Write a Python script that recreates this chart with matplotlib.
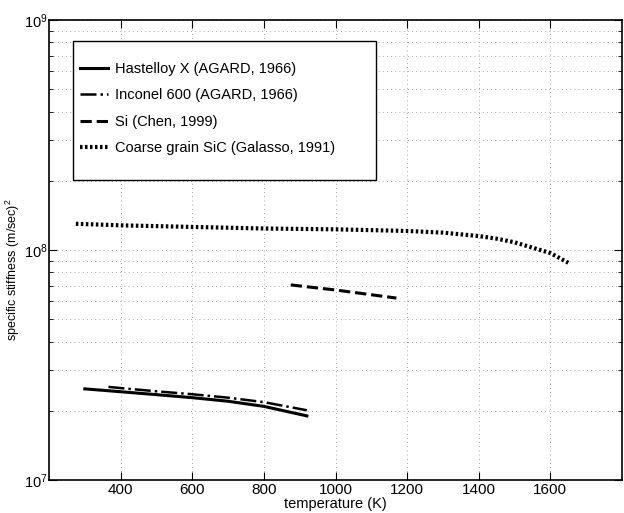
import matplotlib
matplotlib.use('Agg')
import matplotlib.pyplot as plt
from matplotlib.patches import Rectangle
from matplotlib.ticker import LogLocator, NullFormatter

# valeurs
hastelloy_T = [300, 400, 500, 600, 700, 800, 920]
hastelloy_E = [2.49e7, 2.42e7, 2.35e7, 2.28e7, 2.20e7, 2.09e7, 1.90e7]

inconel_T = [366, 400, 500, 600, 700, 800, 920]
inconel_E = [2.54e7, 2.51e7, 2.43e7, 2.36e7, 2.28e7, 2.18e7, 2.01e7]

si_T = [875, 1000, 1170]
si_E = [7.05e7, 6.70e7, 6.18e7]

sic_T = [275, 400, 600, 800, 1000, 1200, 1300, 1400, 1450, 1500, 1600, 1650]
sic_E = [1.30e8, 1.28e8, 1.26e8, 1.24e8, 1.23e8, 1.21e8, 1.19e8, 1.15e8,
         1.12e8, 1.08e8, 9.7e7, 8.8e7]

labels = ['Hastelloy X (AGARD, 1966)', 'Inconel 600 (AGARD, 1966)',
          'Si (Chen, 1999)', 'Coarse grain SiC (Galasso, 1991)']
xticks = [400, 600, 800, 1000, 1200, 1400, 1600]

plt.rcParams['font.family'] = ['Liberation Sans', 'DejaVu Sans']
plt.rcParams['font.size'] = 10.5
plt.rcParams['mathtext.fontset'] = 'custom'
plt.rcParams['mathtext.rm'] = 'Liberation Sans'

fig = plt.figure(figsize=(6.24, 5.13), dpi=100)
ax = fig.add_axes([49 / 624, 1 - 480 / 513, 573 / 624, 460 / 513])

ax.plot(hastelloy_T, hastelloy_E, '-', color='black', lw=2.2, label=labels[0])
ax.plot(inconel_T, inconel_E, '-.', color='black', lw=1.8, label=labels[1])
ax.plot(si_T, si_E, '--', color='black', lw=2.2, label=labels[2])
ax.plot(sic_T, sic_E, linestyle=(0, (0.6, 0.6)), color='black', lw=3.0,
        label=labels[3])

ax.set_yscale('log')
ax.set_xlim(200, 1800)
ax.set_ylim(1e7, 1e9)
ax.set_xticks(xticks)
ax.yaxis.set_minor_locator(LogLocator(base=10, subs=range(2, 10)))
ax.yaxis.set_minor_formatter(NullFormatter())

grid_style = dict(linestyle=(0, (1, 4)), color='0.55', lw=0.6)
ax.grid(True, which='major', axis='x', **grid_style)
ax.grid(True, which='both', axis='y', **grid_style)

ax.tick_params(which='both', direction='in', top=True, right=True,
               labelsize=11)
ax.tick_params(which='major', length=6, pad=2)
ax.tick_params(which='minor', length=3)
ax.tick_params(axis='y', which='major', pad=1, labelsize=10.5)
for s in ax.spines.values():
    s.set_linewidth(1.2)

ax.set_xlabel('temperature (K)', labelpad=0)
ax.set_ylabel('specific stiffness (m/sec)$^2$', fontsize=9)
ax.yaxis.set_label_coords(-0.047, 0.457)

# cadre de la legende
ax.add_patch(Rectangle((24 / 573, 1 - 160 / 460), 303 / 573, 139 / 460,
                       transform=ax.transAxes, facecolor='white',
                       edgecolor='black', lw=1.0, zorder=4))
leg = ax.legend(loc='upper left', bbox_to_anchor=(31 / 573, 1 - 42 / 460),
                frameon=False, handlelength=1.9, handletextpad=0.5,
                labelspacing=0.85, borderaxespad=0, borderpad=0)
leg.set_zorder(5)

fig.savefig('out.png', dpi=100)
